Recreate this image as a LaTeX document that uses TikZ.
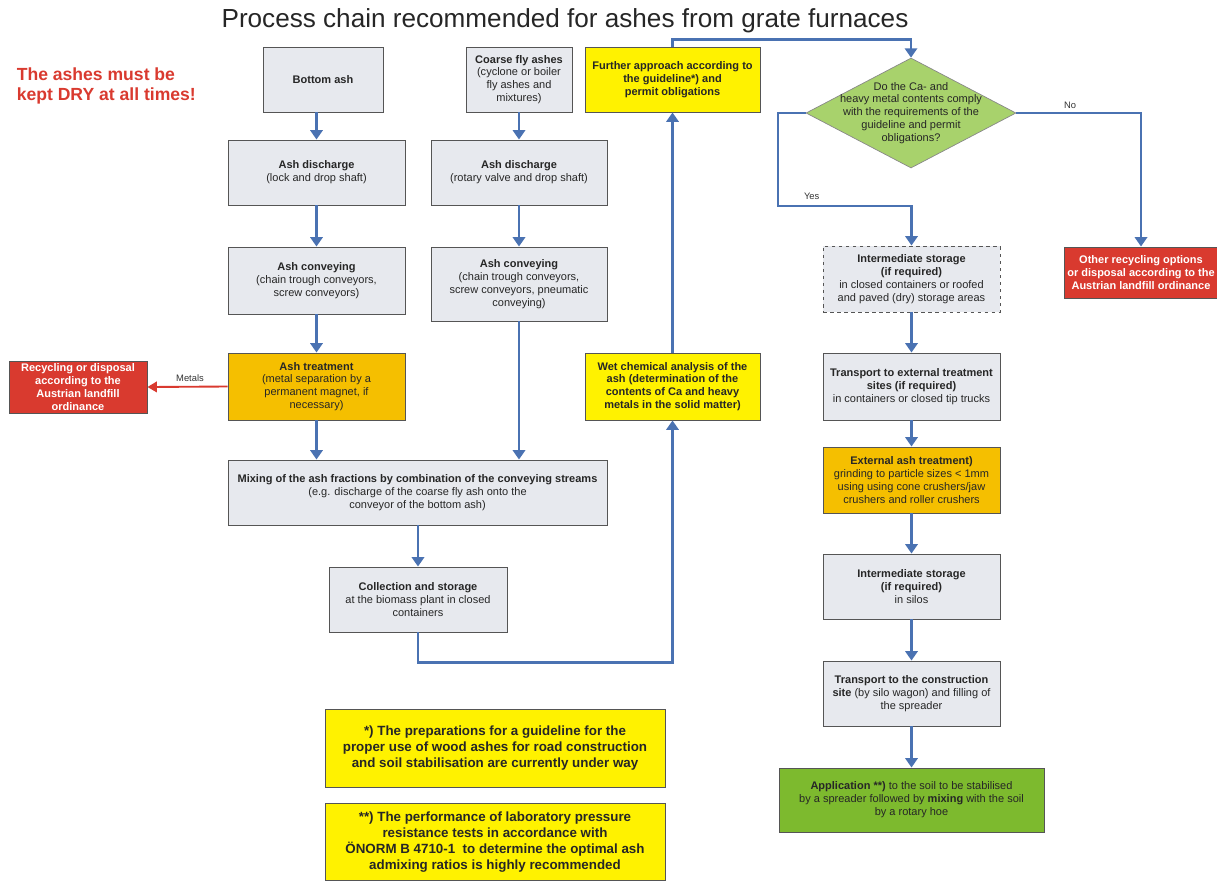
\documentclass[tikz,border=0pt]{standalone}
\usepackage{fontspec}
\setmainfont{Liberation Sans}
\usepackage{xcolor}
\usepackage{tikz}
\usetikzlibrary{shapes,arrows.meta}

\definecolor{boxgray}{HTML}{E7E9EE}
\definecolor{boxline}{HTML}{555555}
\definecolor{flowblue}{HTML}{4A72B2}
\definecolor{signyellow}{HTML}{FFF200}
\definecolor{ashorange}{HTML}{F5BF00}
\definecolor{alertred}{HTML}{D93A2F}
\definecolor{lightgreen}{HTML}{A8D26C}
\definecolor{soilgreen}{HTML}{7DBA2E}

\begin{document}
\begin{tikzpicture}[
    box1/.style={rectangle, draw=boxline, fill=boxgray, line width=0.8pt, align=center, inner sep=2pt, font=\fontsize{9.4}{11}\selectfont, text=black!85},
    box2/.style={box1, fill=signyellow},
    box3/.style={box1, fill=ashorange},
    box4/.style={box1, fill=alertred, text=white, font=\fontsize{9.4}{11}\selectfont\bfseries},
    box5/.style={box1, fill=soilgreen},
    decision/.style={diamond, draw=boxline!70, fill=lightgreen, line width=0.6pt, minimum width=6.3cm, minimum height=3.3cm, inner sep=0pt},
    note/.style={box2, font=\fontsize{11.4}{13.5}\selectfont\bfseries},
    arrow/.style={-{Triangle[width=10.5pt,length=8pt]}, line width=2.4pt, draw=flowblue},
    redarrow/.style={-{Triangle[width=9pt,length=8pt]}, line width=1.6pt, draw=alertred},
    lbl/.style={font=\fontsize{8}{9.5}\selectfont, text=black!80}
]
    \useasboundingbox (0,0) rectangle (36.51,-26.43);

    % headings
    \node [font=\fontsize{22.3}{26}\selectfont, text=black!85] (title) at (16.95,-0.62) {Process chain recommended for ashes from grate furnaces};
    \node [anchor=north west, align=left, text=alertred, font=\fontsize{15}{17}\selectfont\bfseries] (dry) at (0.38,-1.9) {The ashes must be\\kept DRY at all times!};

    % left part: ash streams
    \node [box1, minimum width=3.6cm, minimum height=1.95cm] (bottom) at (9.69,-2.385) {\textbf{Bottom ash}};
    \node [box1, minimum width=3.18cm, minimum height=1.95cm] (coarse) at (15.57,-2.385) {\textbf{Coarse fly ashes}\\(cyclone or boiler\\fly ashes and\\mixtures)};
    \node [box1, minimum width=5.31cm, minimum height=1.95cm] (dischL) at (9.495,-5.175) {\textbf{Ash discharge}\\(lock and drop shaft)};
    \node [box1, minimum width=5.28cm, minimum height=1.95cm] (dischR) at (15.57,-5.175) {\textbf{Ash discharge}\\(rotary valve and drop shaft)};
    \node [box1, minimum width=5.31cm, minimum height=2.01cm] (convL) at (9.495,-8.415) {\textbf{Ash conveying}\\(chain trough conveyors,\\screw conveyors)};
    \node [box1, minimum width=5.28cm, minimum height=2.22cm] (convR) at (15.57,-8.52) {\textbf{Ash conveying}\\(chain trough conveyors,\\screw conveyors, pneumatic\\conveying)};
    \node [box3, minimum width=5.31cm, minimum height=2.01cm] (treat) at (9.495,-11.595) {\textbf{Ash treatment}\\(metal separation by a\\permanent magnet, if\\necessary)};
    \node [box4, minimum width=4.14cm, minimum height=1.56cm] (recyc) at (2.34,-11.61) {Recycling or disposal\\according to the\\Austrian landfill\\ordinance};
    \node [box1, minimum width=11.37cm, minimum height=1.95cm] (mix) at (12.525,-14.775) {\textbf{Mixing of the ash fractions by combination of the conveying streams}\\(e.g. discharge of the coarse fly ash onto the\\conveyor of the bottom ash)};
    \node [box1, minimum width=5.34cm, minimum height=1.95cm] (collect) at (12.54,-17.985) {\textbf{Collection and storage}\\at the biomass plant in closed\\containers};

    % analysis
    \node [box2, minimum width=5.25cm, minimum height=2.01cm] (wet) at (20.175,-11.595) {\textbf{Wet chemical analysis of the}\\\textbf{ash (determination of the}\\\textbf{contents of Ca and heavy}\\\textbf{metals in the solid matter)}};
    \node [box2, minimum width=5.25cm, minimum height=1.95cm] (further) at (20.175,-2.385) {\textbf{Further approach according to}\\\textbf{the guideline*) and}\\\textbf{permit obligations}};

    % right part: decision and road construction
    \node [decision] (dec) at (27.33,-3.39) {};
    \node [align=center, font=\fontsize{9.4}{11}\selectfont, text=black!85] (dectext) at (dec.center) {Do the Ca- and\\heavy metal contents comply\\with the requirements of the\\guideline and permit\\obligations?};
    \node [box1, dashed, minimum width=5.31cm, minimum height=1.98cm] (interm) at (27.345,-8.37) {\textbf{Intermediate storage}\\\textbf{(if required)}\\in closed containers or roofed\\and paved (dry) storage areas};
    \node [box4, minimum width=4.53cm, minimum height=1.53cm] (other) at (34.23,-8.175) {Other recycling options\\or disposal according to the\\Austrian landfill ordinance};
    \node [box1, minimum width=5.31cm, minimum height=2.01cm] (transext) at (27.345,-11.595) {\textbf{Transport to external treatment}\\\textbf{sites (if required)}\\in containers or closed tip trucks};
    \node [box3, minimum width=5.31cm, minimum height=1.98cm] (exttreat) at (27.345,-14.4) {\textbf{External ash treatment)}\\grinding to particle sizes < 1mm\\using using cone crushers/jaw\\crushers and roller crushers};
    \node [box1, minimum width=5.31cm, minimum height=1.95cm] (silos) at (27.345,-17.595) {\textbf{Intermediate storage}\\\textbf{(if required)}\\in silos};
    \node [box1, minimum width=5.31cm, minimum height=1.95cm] (transcon) at (27.345,-20.805) {\textbf{Transport to the construction}\\\textbf{site} (by silo wagon) and filling of\\the spreader};
    \node [box5, minimum width=7.95cm, minimum height=1.92cm] (apply) at (27.345,-24) {\textbf{Application **)} to the soil to be stabilised\\by a spreader followed by \textbf{mixing} with the soil\\by a rotary hoe};

    % footnotes
    \node [note, minimum width=10.2cm, minimum height=2.34cm] (note1) at (14.85,-22.44) {*) The preparations for a guideline for the\\proper use of wood ashes for road construction\\and soil stabilisation are currently under way};
    \node [note, minimum width=10.2cm, minimum height=2.31cm] (note2) at (14.85,-25.26) {**) The performance of laboratory pressure\\resistance tests in accordance with\\ÖNORM B 4710-1\ \ to determine the optimal ash\\admixing ratios is highly recommended};

    % connectors
    \draw [arrow] (bottom.south -| dischL.north) -- (dischL.north);
    \draw [arrow] (dischL) -- (convL);
    \draw [arrow] (convL) -- (treat);
    \draw [arrow] (treat.south) -- (treat.south |- mix.north);
    \draw [arrow] (coarse.south -| dischR.north) -- (dischR.north);
    \draw [arrow] (dischR) -- (convR);
    \draw [arrow] (convR.south) -- (convR.south |- mix.north);
    \draw [arrow] (mix.south -| collect.north) -- (collect.north);
    \draw [arrow] (collect.south) -- ++(0,-0.9) -| (wet.south);
    \draw [arrow] (wet) -- (further);
    \draw [arrow] (further.north) -- ++(0,0.21) -| (dec.north);
    \draw [redarrow] (treat.west) -- (recyc.east);
    \node [lbl] (metals) at (5.7,-11.33) {Metals};

    \coordinate (yesbend) at (23.34,-6.18);
    \draw [arrow] (dec.west) -| (yesbend) -| (interm.north);
    \node [lbl] (yes) at (24.35,-5.9) {Yes};
    \draw [arrow] (dec.east) -| (other.north);
    \node [lbl] (no) at (32.1,-3.17) {No};

    \draw [arrow] (interm) -- (transext);
    \draw [arrow] (transext) -- (exttreat);
    \draw [arrow] (exttreat) -- (silos);
    \draw [arrow] (silos) -- (transcon);
    \draw [arrow] (transcon) -- (apply);
\end{tikzpicture}
\end{document}
